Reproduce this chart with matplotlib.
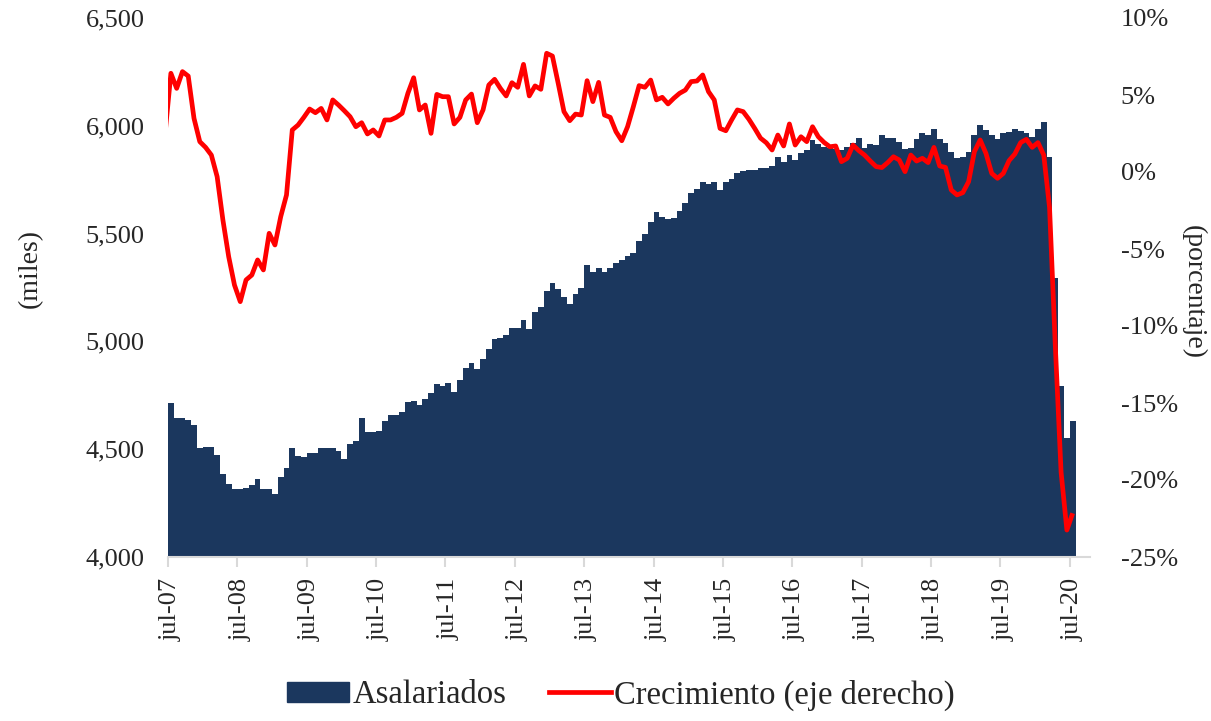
import matplotlib
matplotlib.use("Agg")
import matplotlib.pyplot as plt
from matplotlib.patches import Patch
from matplotlib.lines import Line2D
import numpy as np

# ---------------- data ----------------
years = ["07", "08", "09", "10", "11", "12", "13", "14", "15", "16", "17", "18", "19", "20"]
tick_labels = ["jul-" + y for y in years]

# Asalariados (miles), monthly from jul-07 to jul-20
asalariados = [
    4713, 4643, 4643, 4637, 4611, 4504, 4509, 4509, 4475, 4386, 4340, 4314,
    4314, 4320, 4332, 4360, 4314, 4314, 4294, 4373, 4414, 4504, 4470, 4462,
    4482, 4482, 4507, 4507, 4507, 4493, 4455, 4523, 4537, 4645, 4578, 4578,
    4583, 4632, 4659, 4659, 4671, 4719, 4725, 4705, 4733, 4759, 4801, 4793,
    4806, 4767, 4821, 4875, 4901, 4870, 4917, 4963, 5010, 5017, 5030, 5064,
    5064, 5098, 5056, 5138, 5158, 5232, 5272, 5244, 5204, 5173, 5218, 5246,
    5354, 5320, 5342, 5320, 5342, 5362, 5376, 5396, 5408, 5466, 5497, 5554,
    5599, 5578, 5566, 5571, 5605, 5640, 5687, 5705, 5739, 5728, 5739, 5702,
    5739, 5755, 5780, 5789, 5795, 5795, 5802, 5802, 5814, 5853, 5830, 5866,
    5841, 5874, 5888, 5932, 5915, 5900, 5896, 5893, 5890, 5903, 5922, 5942,
    5896, 5915, 5910, 5957, 5942, 5942, 5923, 5891, 5896, 5937, 5965, 5957,
    5984, 5937, 5922, 5877, 5849, 5854, 5877, 5957, 6004, 5980, 5957, 5937,
    5965, 5969, 5984, 5977, 5965, 5947, 5984, 6016, 5854, 5293, 4793, 4550,
    4632,
]

# Crecimiento (%), monthly from jun-07 to jul-20 (first point partly outside plot)
crecimiento = [
    2.50,
    6.41, 5.43, 6.52, 6.23, 3.48, 1.97, 1.60, 1.10, -0.30, -3.12, -5.50, -7.34,
    -8.42, -7.01, -6.69, -5.71, -6.36, -3.98, -4.74, -2.90, -1.49, 2.73, 3.05, 3.55,
    4.09, 3.85, 4.13, 3.38, 4.68, 4.35, 3.98, 3.59, 2.94, 3.20, 2.47, 2.73,
    2.34, 3.38, 3.38, 3.55, 3.81, 5.11, 6.12, 4.03, 4.35, 2.51, 5.04, 4.89,
    4.89, 3.12, 3.55, 4.68, 5.06, 3.20, 4.03, 5.65, 6.02, 5.43, 4.94, 5.80,
    5.50, 6.99, 4.94, 5.59, 5.37, 7.71, 7.53, 5.76, 3.92, 3.33, 3.76, 3.70,
    5.93, 4.57, 5.82, 3.70, 3.55, 2.62, 2.03, 2.94, 4.24, 5.61, 5.50, 5.97,
    4.68, 4.85, 4.42, 4.79, 5.11, 5.32, 5.87, 5.91, 6.30, 5.22, 4.68, 2.83,
    2.68, 3.38, 4.03, 3.92, 3.42, 2.83, 2.20, 1.90, 1.43, 2.40, 1.69, 3.12,
    1.75, 2.29, 1.97, 2.94, 2.29, 1.92, 1.64, 1.69, 0.67, 0.89, 1.75, 1.39,
    1.10, 0.71, 0.35, 0.29, 0.61, 0.99, 0.78, 0.02, 1.10, 0.71, 0.89, 0.61,
    1.60, 0.39, 0.30, -1.17, -1.49, -1.34, -0.63, 1.32, 2.08, 1.21, -0.09, -0.41,
    -0.09, 0.74, 1.17, 1.91, 2.12, 1.60, 1.91, 1.10, -2.30, -11.30, -19.50, -23.25,
    -22.16,
]

left_ticks = [4000, 4500, 5000, 5500, 6000, 6500]
right_ticks = [-25, -20, -15, -10, -5, 0, 5, 10]

# ---------------- style ----------------
FONT = ["Liberation Serif", "DejaVu Serif"]
plt.rcParams["font.family"] = FONT
BAR_C = "#1b375e"
LINE_C = "#ff0000"
TXT_C = "#262626"

fig = plt.figure(figsize=(12.11, 7.21), dpi=100)
ax = fig.add_axes([168 / 1211, 1 - 557 / 721, (1090 - 168) / 1211, (557 - 18) / 721])

n = len(asalariados)
x_bar = np.arange(n)
ax.bar(x_bar, asalariados, width=1.0, color=BAR_C, linewidth=0, antialiased=False)
ax.set_ylim(4000, 6500)
ax.set_xlim(-0.5, 159.0)
ax.set_yticks(left_ticks)
ax.set_yticklabels([f"{v:,}" for v in left_ticks])
ax.tick_params(axis="y", length=0, pad=17, labelsize=19, labelcolor=TXT_C)

# x ticks: marks between categories, labels at category
tick_pos = [12 * k - 0.5 for k in range(len(tick_labels))]
lab_pos = [12 * k for k in range(len(tick_labels))]
ax.set_xticks(tick_pos)
ax.set_xticklabels([""] * len(tick_pos))
ax.set_xticks(lab_pos, minor=True)
ax.set_xticklabels(tick_labels, minor=True, rotation=90)
ax.tick_params(axis="x", which="major", length=7, width=1.5, color="#d9d9d9")
ax.tick_params(axis="x", which="minor", length=0, pad=15, labelsize=19, labelcolor=TXT_C)

for s in ["top", "left", "right"]:
    ax.spines[s].set_visible(False)
ax.spines["bottom"].set_color("#d9d9d9")
ax.spines["bottom"].set_linewidth(1.5)
ax.spines["bottom"].set_zorder(5)

ax2 = ax.twinx()
x_line = np.arange(-1, n)
ax2.plot(x_line, crecimiento, color=LINE_C, linewidth=3.4, solid_joinstyle="round",
         solid_capstyle="butt")
ax2.set_ylim(-25, 10)
ax2.set_xlim(-0.5, 159.0)
ax2.set_yticks(right_ticks)
ax2.set_yticklabels([f"{v}%" for v in right_ticks])
ax2.tick_params(axis="y", length=0, pad=22, labelsize=19, labelcolor=TXT_C)
for s in ["top", "left", "right", "bottom"]:
    ax2.spines[s].set_visible(False)

fig.text(30 / 1211, 1 - 268 / 721, "(miles)", rotation=90, ha="center", va="center",
         fontsize=20, color=TXT_C)
fig.text(1193 / 1211, 1 - 292 / 721, "(porcentaje)", rotation=270, ha="center",
         va="center", fontsize=20, color=TXT_C)

handles = [Patch(facecolor=BAR_C, edgecolor=BAR_C),
           Line2D([0], [0], color=LINE_C, linewidth=3.4)]
fig.legend(handles, ["Asalariados", "Crecimiento (eje derecho)"], loc="center",
           bbox_to_anchor=(621 / 1211, 1 - 695 / 721), ncol=2, frameon=False,
           fontsize=23.5, handlelength=1.9, handleheight=0.6, handletextpad=0.1,
           columnspacing=1.3, labelcolor=TXT_C)

fig.savefig("out.png", dpi=100)
